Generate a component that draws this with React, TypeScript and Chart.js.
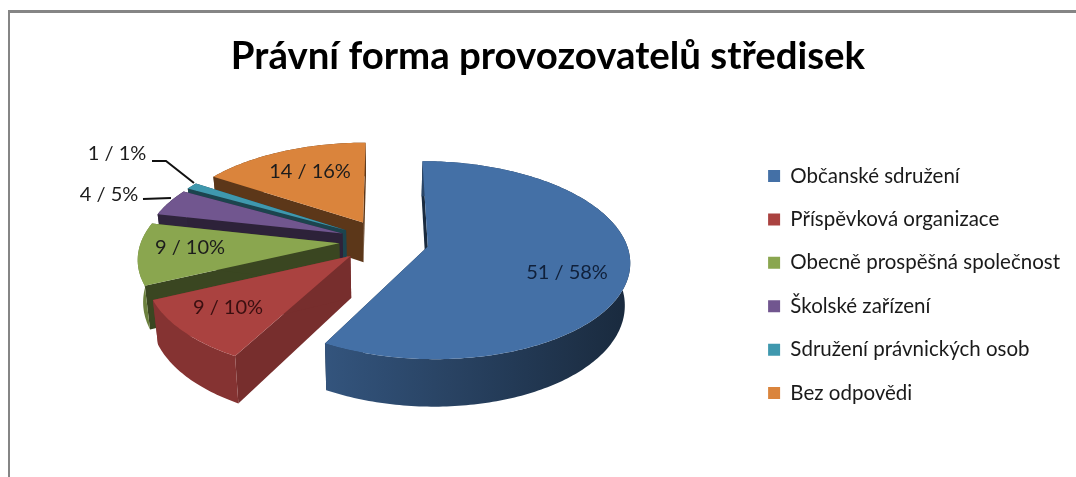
import React, { useEffect, useRef } from "react";
import { Chart, registerables } from "chart.js";

Chart.register(...registerables);

const TITLE = "Právní forma provozovatelů středisek";
const categories = [
  "Občanské sdružení",
  "Příspěvková organizace",
  "Obecně prospěšná společnost",
  "Školské zařízení",
  "Sdružení právnických osob",
  "Bez odpovědi",
];
const counts = [51, 9, 9, 4, 1, 14];
const percents = [58, 10, 10, 5, 1, 16];
const colors = ["#4470a6", "#aa4240", "#8aa64f", "#71568f", "#3f98ae", "#da843c"];
const radialShade = [0.38, 0.7, 0.42, 0.4, 0.45, 0.42];
const wallCap = [0.78, 0.78, 0.78, 0.42, 0.45, 0.42];
const labelAnchors = [
  [567, 273],
  [228, 308],
  [190, 248],
  [109, 195],
  [117, 154],
  [310, 172],
];
const leaders = [
  [[152, 161], [166, 161], [194, 183]],
  [[143, 199], [171, 198]],
];

const FONT = "Lato, Carlito, sans-serif";
const CX = 384;
const CY = 241;
const RX = 198;
const RY = 95.6;
const K = 0.138;
const SHRINK = 0.022;
const DEPTH = 41;

const hexToRgb = (h: string) => [1, 3, 5].map((i) => parseInt(h.slice(i, i + 2), 16));
const shade = (h: string, f: number) => {
  const [r, g, b] = hexToRgb(h);
  return `rgb(${Math.round(r * f)},${Math.round(g * f)},${Math.round(b * f)})`;
};

const top = (u: number, v: number) => {
  const s = 1 / (1 - K * v);
  return { x: CX + RX * u * s, y: CY + RY * v * s };
};
const low = (u: number, v: number) => {
  const p = top(u, v);
  return { x: CX + (p.x - CX) * (1 - SHRINK), y: p.y + DEPTH * (1 + 0.15 * v) };
};

const poly = (
  ctx: CanvasRenderingContext2D,
  pts: { x: number; y: number }[],
  fill: string | CanvasGradient
) => {
  ctx.beginPath();
  pts.forEach((p, i) => (i ? ctx.lineTo(p.x, p.y) : ctx.moveTo(p.x, p.y)));
  ctx.closePath();
  ctx.fillStyle = fill;
  ctx.fill();
};

const wallGradient = (ctx: CanvasRenderingContext2D, color: string, cap: number) => {
  const span = 1.3;
  const g = ctx.createLinearGradient(CX - RX * span, 0, CX + RX * span, 0);
  for (let t = 0; t <= 8; t++) {
    const u = -span + (2 * span * t) / 8;
    g.addColorStop(t / 8, shade(color, Math.min(cap, 0.68 - 0.25 * u)));
  }
  return g;
};

const pie3d = {
  id: "pie3d",
  beforeDatasetDraw(chart: any) {
    const ctx: CanvasRenderingContext2D = chart.ctx;
    const arcs = chart.getDatasetMeta(0).data;
    for (let i = arcs.length - 1; i >= 0; i--) {
      const el = arcs[i];
      const { startAngle, endAngle, outerRadius } = el.getProps(
        ["startAngle", "endAngle", "outerRadius"],
        true
      );
      const e = el.options.offset / 4 / outerRadius;
      const mid = (startAngle + endAngle) / 2;
      const ou = e * Math.cos(mid);
      const ov = e * Math.sin(mid);
      const n = Math.max(2, Math.ceil(((endAngle - startAngle) * 180) / Math.PI));
      const rim: [number, number][] = [];
      for (let j = 0; j <= n; j++) {
        const a = startAngle + ((endAngle - startAngle) * j) / n;
        rim.push([ou + Math.cos(a), ov + Math.sin(a)]);
      }
      const color = colors[i];
      const f = radialShade[i];
      const [su, sv] = rim[0];
      const [eu, ev] = rim[n];
      poly(ctx, [top(ou, ov), top(su, sv), low(su, sv), low(ou, ov)], shade(color, f));
      poly(ctx, [top(ou, ov), top(eu, ev), low(eu, ev), low(ou, ov)], shade(color, f));
      poly(
        ctx,
        [...rim.map(([u, v]) => top(u, v)), ...rim.slice().reverse().map(([u, v]) => low(u, v))],
        wallGradient(ctx, color, wallCap[i])
      );
      poly(ctx, [top(ou, ov), ...rim.map(([u, v]) => top(u, v))], color);
    }
    return false;
  },
  afterDatasetsDraw(chart: any) {
    const ctx: CanvasRenderingContext2D = chart.ctx;
    ctx.save();
    ctx.font = `20px ${FONT}`;
    ctx.textAlign = "center";
    ctx.textBaseline = "middle";
    counts.forEach((count, idx) => {
      ctx.fillStyle = idx === 0 ? "#10203a" : idx === 1 ? "#3a0f10" : "#1c1c1c";
      ctx.fillText(`${count} / ${percents[idx]}%`, labelAnchors[idx][0], labelAnchors[idx][1]);
    });
    ctx.strokeStyle = "#111";
    ctx.lineWidth = 2;
    leaders.forEach((line) => {
      ctx.beginPath();
      line.forEach(([x, y], i) => (i ? ctx.lineTo(x, y) : ctx.moveTo(x, y)));
      ctx.stroke();
    });
    ctx.restore();
  },
};

export default function App() {
  const ref = useRef<HTMLCanvasElement>(null);
  useEffect(() => {
    const chart = new Chart(ref.current as HTMLCanvasElement, {
      type: "pie",
      data: {
        labels: categories,
        datasets: [{ data: counts, backgroundColor: colors, offset: 120, borderWidth: 0 }],
      },
      options: {
        responsive: false,
        animation: false,
        layout: { padding: { left: 26, right: 6 } },
        plugins: {
          title: {
            display: true,
            text: TITLE,
            color: "#000",
            font: { family: FONT, size: 38.4, weight: "bold" },
            padding: { top: 34, bottom: 12 },
          },
          legend: {
            position: "right",
            fullSize: false,
            labels: {
              color: "#1a1a1a",
              boxWidth: 12,
              boxHeight: 12,
              padding: 22.9,
              font: { family: FONT, size: 20.5 },
            },
          },
          tooltip: { enabled: false },
        },
      },
      plugins: [pie3d],
    } as any);
    return () => chart.destroy();
  }, []);
  return (
    <div style={{ position: "fixed", left: 0, top: 0, width: 1076, height: 477, background: "#fff" }}>
      <div
        style={{
          position: "absolute",
          left: 8,
          top: 10,
          right: 0,
          bottom: 0,
          borderTop: "3px solid #858585",
          borderLeft: "2px solid #858585",
        }}
      />
      <canvas ref={ref} width={1076} height={477} style={{ position: "absolute", left: 0, top: 0, display: "block" }} />
    </div>
  );
}
